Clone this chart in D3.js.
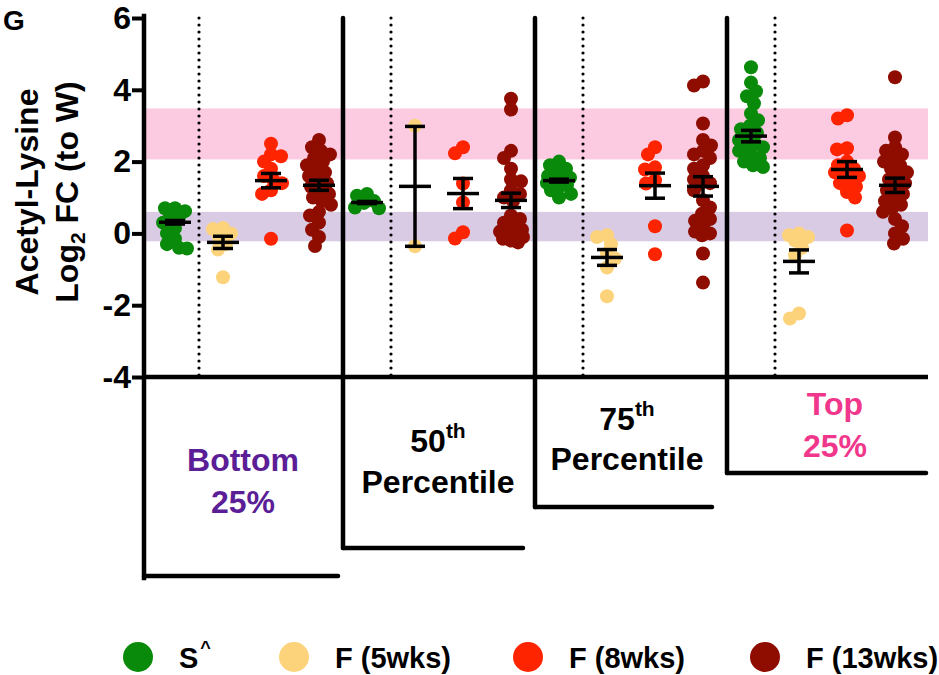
<!DOCTYPE html>
<html>
<head>
<meta charset="utf-8">
<script src="https://cdn.jsdelivr.net/npm/d3@7"></script>
<style>
body { margin: 0; background: #fff; }
svg { display: block; font-family: "Liberation Sans", Arial, sans-serif; font-weight: bold; }
</style>
</head>
<body>
<svg id="chart" width="939" height="675"></svg>
<script>
// Series / groups
let series = ["S^", "F (5wks)", "F (8wks)", "F (13wks)"];
let colors = ["#0a8a0a", "#fcd37b", "#ff2400", "#8e0d00"];
let yTicks = [-4, -2, 0, 2, 4, 6];

// Points per panel, one list per series (S^, F5, F8, F13)
let bottomPts = [
    [0.7, 0.7, 0.62, 0.5, 0.45, 0.3, 0.15, 0.0, -0.15, -0.3, -0.4, -0.42],
    [0.15, 0.12, 0.0, -0.1, -0.3, -0.45, -1.22],
    [2.5, 2.2, 2.15, 2.0, 1.8, 1.6, 1.5, 1.4, 1.2, 1.1, -0.15],
    [2.6, 2.4, 2.3, 2.2, 2.1, 2.0, 1.9, 1.8, 1.7, 1.6, 1.5, 1.4, 1.3, 1.2, 1.1, 1.0, 0.9, 0.8, 0.6, 0.5, 0.3, 0.1, -0.1, -0.35]
];
let p50Pts = [
    [1.1, 1.05, 0.9, 0.85, 0.72, 0.7],
    [3.0, -0.36],
    [2.4, 2.23, 1.39, 0.86, 0.03, -0.14],
    [3.75, 3.45, 2.3, 2.1, 1.8, 1.5, 1.45, 1.2, 1.1, 1.0, 0.9, 0.5, 0.4, 0.3, 0.2, 0.1, 0.05, 0.0, -0.05, -0.1, -0.15, -0.2, -0.25]
];
let p75Pts = [
    [2.0, 1.9, 1.8, 1.7, 1.6, 1.55, 1.5, 1.45, 1.4, 1.35, 1.3, 1.2, 1.1, 1.0],
    [-0.05, -0.1, -0.3, -0.55, -0.7, -0.95, -1.75],
    [2.4, 2.2, 1.84, 1.78, 1.48, 1.39, 0.2, -0.58],
    [4.23, 4.12, 3.06, 2.6, 2.45, 2.3, 2.2, 2.1, 1.6, 1.9, 1.8, 1.5, 1.4, 1.4, 1.2, 0.92, 0.72, 0.55, 0.4, 0.35, 0.2, 0.05, 0.0, -0.05, -0.56, -1.37]
];
let topPts = [
    [4.63, 4.2, 3.96, 3.82, 3.62, 3.34, 3.15, 3.0, 2.9, 2.8, 2.7, 2.6, 2.5, 2.45, 2.4, 2.3, 2.2, 2.1, 2.0, 1.9, 1.85],
    [0.0, -0.05, -0.1, -0.2, -0.4, -0.6, -2.23, -2.37],
    [3.29, 3.2, 2.37, 2.34, 2.0, 1.9, 1.8, 1.75, 1.7, 1.6, 1.5, 1.4, 1.3, 1.15, 1.0, 0.08],
    [4.35, 2.67, 2.4, 2.3, 2.2, 2.1, 2.0, 1.9, 1.8, 1.7, 1.6, 1.5, 1.4, 1.3, 1.2, 1.1, 1.0, 0.9, 0.8, 0.7, 0.6, 0.4, 0.2, 0.0, -0.15, -0.28]
];

// Mean and SEM, 16 groups in order
let groupMeans = [0.31, -0.25, 1.47, 1.34, 0.86, 1.31, 1.11, 0.92, 1.47, -0.67, 1.33, 1.31, 2.71, -0.78, 1.78, 1.34];
let groupSems = [0.05, 0.17, 0.2, 0.14, 0.03, 1.67, 0.42, 0.2, 0.04, 0.22, 0.35, 0.27, 0.16, 0.32, 0.22, 0.2];

// Reference bands
let topBand = [2.06, 3.48];
let bottomBand = [-0.22, 0.6];

// Panel labels (lines, [main, superscript])
let panelLabels = [
    [["Bottom", ""], ["25%", ""]],
    [["50", "th"], ["Percentile", ""]],
    [["75", "th"], ["Percentile", ""]],
    [["Top", ""], ["25%", ""]]
];
let panelColors = ["#5b1e97", "#000", "#000", "#f0378b"];

let allPanels = [bottomPts, p50Pts, p75Pts, topPts];

// Layout
let svg = d3.select("#chart");
let axisX = 144, rightX = 928;
let x = d3.scaleBand().domain(d3.range(16)).range([151, 919]);
let y = d3.scaleLinear().domain([-4, 6]).range([377, 18]);
let cx = i => x(i) + x.bandwidth() / 2;
let r = 7;

// Box layout for the label staircase
let boxes = [
    { right: 338, bottom: 576, tx: 243, ty: [471, 513] },
    { right: 523, bottom: 548, tx: 438, ty: [452, 493] },
    { right: 712, bottom: 507, tx: 627, ty: [430, 470] },
    { right: 926, bottom: 473, tx: 835, ty: [415, 457] }
];

// Bands
svg.append("rect")
    .attr("x", axisX).attr("width", rightX - axisX)
    .attr("y", y(topBand[1])).attr("height", y(topBand[0]) - y(topBand[1]))
    .attr("fill", "#fdcbe1");
svg.append("rect")
    .attr("x", axisX).attr("width", rightX - axisX)
    .attr("y", y(bottomBand[1])).attr("height", y(bottomBand[0]) - y(bottomBand[1]))
    .attr("fill", "#dacbe4");

// Simple beeswarm: dots pile sideways but stay within a narrow column, overlapping when crowded
function swarm(vals) {
    let placed = [];
    let minD = 9.5, maxOff = 12;
    let pts = vals.map(v => ({ v: v, y: y(v) })).sort((a, b) => a.y - b.y);
    pts.forEach((p, i) => {
        let best = 0, bestGap = -1;
        for (let k = 0; k <= maxOff * 2; k++) {
            let cand = (k % 2 ? 1 : -1) * Math.ceil(k / 2);
            if (i % 2) cand = -cand;
            let gap = placed.length ? d3.min(placed, q => Math.hypot(q.dx - cand, q.y - p.y)) : Infinity;
            if (gap >= minD) { best = cand; bestGap = gap; break; }
            if (gap > bestGap) { best = cand; bestGap = gap; }
        }
        p.dx = best;
        placed.push(p);
    });
    return placed;
}

// Points
allPanels.forEach((panel, pi) => {
    panel.forEach((vals, si) => {
        let gi = pi * 4 + si;
        svg.append("g").selectAll("circle")
            .data(swarm(vals))
            .enter().append("circle")
            .attr("cx", d => cx(gi) + d.dx)
            .attr("cy", d => d.y)
            .attr("r", r)
            .attr("fill", colors[si]);
    });
});

// Mean +/- SEM
let eb = svg.append("g").attr("stroke", "#000").attr("stroke-width", 3.5).attr("fill", "none");
groupMeans.forEach((m, gi) => {
    let s = groupSems[gi], c = cx(gi);
    eb.append("line").attr("x1", c).attr("x2", c).attr("y1", y(m + s)).attr("y2", y(m - s));
    eb.append("line").attr("x1", c - 10).attr("x2", c + 10).attr("y1", y(m + s)).attr("y2", y(m + s));
    eb.append("line").attr("x1", c - 10).attr("x2", c + 10).attr("y1", y(m - s)).attr("y2", y(m - s));
    eb.append("line").attr("x1", c - 16).attr("x2", c + 16).attr("y1", y(m)).attr("y2", y(m));
});

// Dotted separators between S^ and F groups
d3.range(4).forEach(pi => {
    let xd = x(pi * 4 + 1);
    svg.append("line")
        .attr("x1", xd).attr("x2", xd).attr("y1", y(6)).attr("y2", y(-4))
        .attr("stroke", "#000").attr("stroke-width", 3.2)
        .attr("stroke-linecap", "round").attr("stroke-dasharray", "0 7");
});

// Y axis (plain hyphen for negatives, as in the figure)
let yAxis = svg.append("g")
    .attr("transform", `translate(${axisX},0)`)
    .call(d3.axisLeft(y).tickValues(yTicks).tickFormat(d => String(d))
        .tickSize(12).tickSizeOuter(0).tickPadding(1));
yAxis.select(".domain").remove();
yAxis.selectAll(".tick line").attr("stroke", "#000").attr("stroke-width", 4);
yAxis.selectAll(".tick text")
    .attr("font-size", 32).attr("font-weight", "bold")
    .attr("font-family", "'Liberation Sans', Arial, sans-serif")
    .attr("fill", "#000");

let frame = svg.append("g").attr("stroke", "#000").attr("stroke-width", 4.5).attr("fill", "none");
frame.append("line").attr("x1", axisX).attr("x2", axisX).attr("y1", y(6) - 2).attr("y2", boxes[0].bottom + 2)
    .attr("stroke-linecap", "square");
frame.append("line").attr("x1", axisX).attr("x2", rightX).attr("y1", y(-4)).attr("y2", y(-4));

// Panel dividers and label boxes
boxes.forEach((b, pi) => {
    let left = pi === 0 ? axisX : x(pi * 4);
    if (pi > 0) {
        frame.append("line").attr("x1", left).attr("x2", left).attr("y1", y(6)).attr("y2", b.bottom)
            .attr("stroke-linecap", "round");
    }
    frame.append("path")
        .attr("d", `M${left},${b.bottom}H${b.right}`)
        .attr("stroke-linecap", "round");

    panelLabels[pi].forEach((ln, li) => {
        let line = svg.append("text")
            .attr("x", b.tx).attr("y", b.ty[li])
            .attr("text-anchor", "middle")
            .attr("font-size", 32)
            .attr("fill", panelColors[pi]);
        line.append("tspan").text(ln[0]);
        if (ln[1]) {
            line.append("tspan").attr("font-size", 21).attr("dy", -14).text(ln[1]);
        }
    });
});

// Y title
let yt = svg.append("g").attr("transform", "translate(0,192) rotate(-90)");
yt.append("text").attr("x", 0).attr("y", 38).attr("text-anchor", "middle")
    .attr("font-size", 32).text("Acetyl-Lysine");
let yt2 = yt.append("text").attr("x", 0).attr("y", 78).attr("text-anchor", "middle").attr("font-size", 32);
yt2.append("tspan").text("Log");
yt2.append("tspan").attr("font-size", 21).attr("dy", 7).text("2");
yt2.append("tspan").attr("dy", -7).text(" FC (to W)");

// Panel letter (top-left corner)
svg.append("text").attr("x", 3).attr("y", 30).attr("font-size", 28).text("G");

// Legend
let legX = [138, 294, 528, 765];
let legend = svg.append("g");
series.forEach((s, i) => {
    legend.append("circle").attr("cx", legX[i]).attr("cy", 657).attr("r", 15).attr("fill", colors[i]);
    let lt = legend.append("text").attr("x", legX[i] + 41).attr("y", 668).attr("font-size", 29);
    if (s === "S^") {
        lt.append("tspan").text("S");
        lt.append("tspan").attr("font-size", 18).attr("dy", -14).attr("dx", 2).text("^");
    } else {
        lt.text(s);
    }
});
</script>
</body>
</html>
